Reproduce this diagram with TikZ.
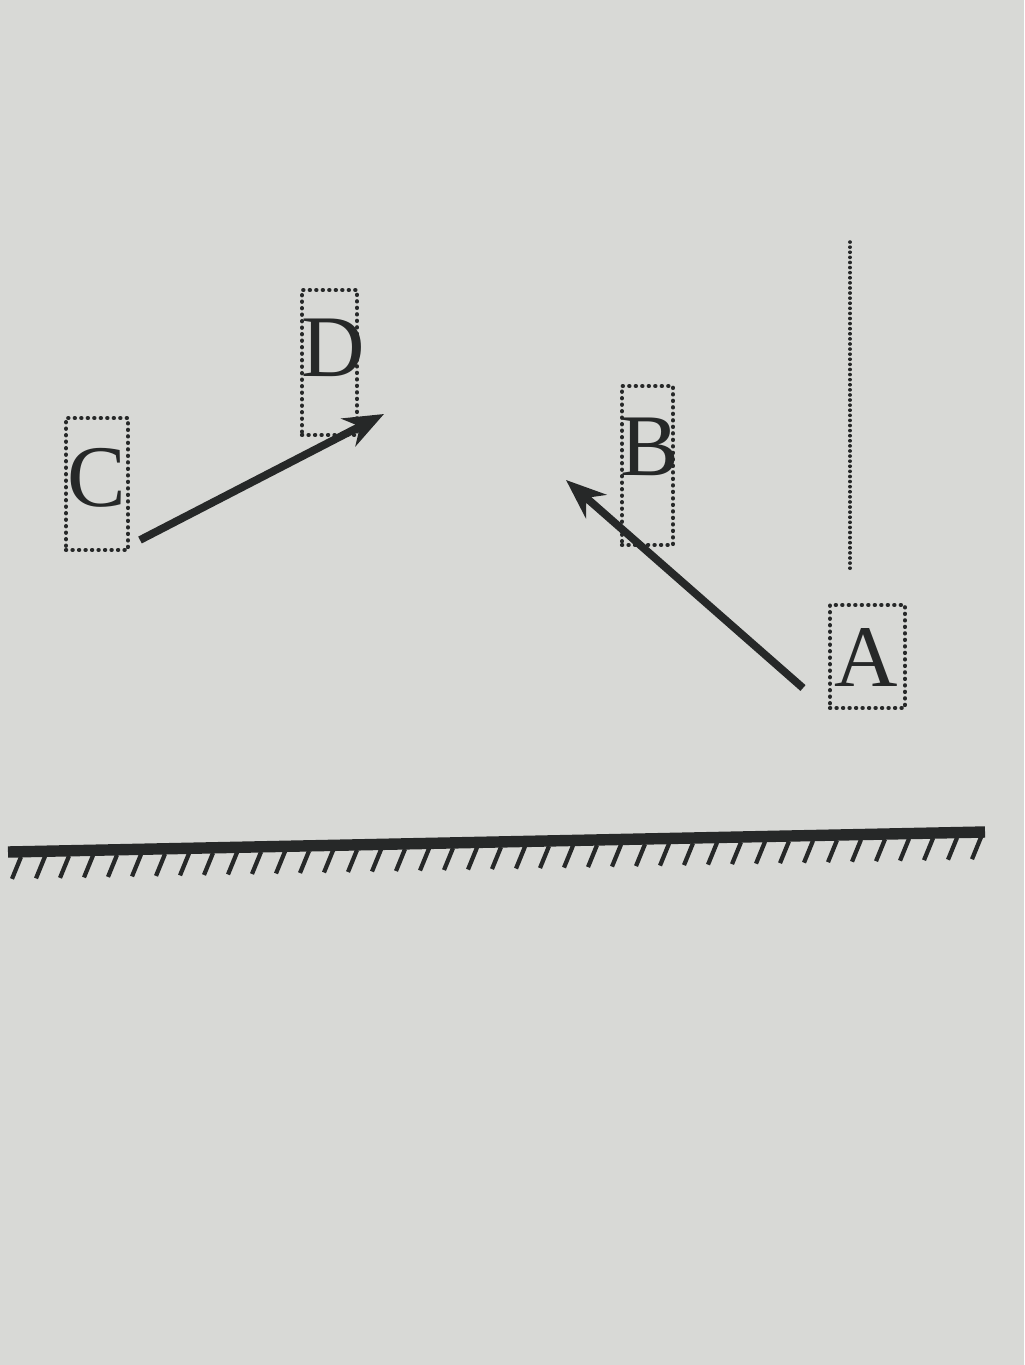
\documentclass[tikz,border=0pt]{standalone}
\usepackage{fontspec}
\setmainfont{Liberation Serif}
\usetikzlibrary{arrows.meta}
\definecolor{paper}{RGB}{216,217,214}
\definecolor{ink}{RGB}{38,40,40}
\tikzset{
    pointbox/.style={draw=ink,line width=2.4pt,dash pattern=on 0.1pt off 3.6pt,line cap=round},
    letter/.style={text=ink,inner sep=0pt,font=\fontsize{50}{54}\selectfont},
}
\begin{document}
\begin{tikzpicture}[x=0.02cm,y=-0.02cm]
            \fill[paper] (0,0) rectangle (1024,1365);
            \useasboundingbox (0,0) rectangle (1024,1365);
            \begin{scope}[every node/.style={pointbox}]
                \node[minimum width=1.24cm,minimum height=2.64cm] (boxC) at (97,484) {};
                \node[minimum width=1.10cm,minimum height=2.90cm] (boxD) at (329.5,362.5) {};
                \node[minimum width=1.02cm,minimum height=3.18cm] (boxB) at (647.5,465.5) {};
                \node[minimum width=1.50cm,minimum height=2.06cm] (boxA) at (867.5,656.5) {};
            \end{scope}
            \begin{scope}[every node/.style={letter}]
                \node (C) at (97,478) {C};
                \node (D) at (333,348) {D};
                \node (B) at (650,447) {B};
                \node (A) at (866,657) {A};
            \end{scope}
            \coordinate (cTail) at (140,540);
            \coordinate (dHead) at (384,414);
            \coordinate (aTail) at (803,688);
            \coordinate (bHead) at (566,480);
            \coordinate (normTop) at (850,242);
            \coordinate (normFoot) at (850,570);
            \coordinate (mirL) at (8,852);
            \coordinate (mirR) at (985,832);
            \begin{scope}[every edge/.style={draw=ink,line width=4.4pt,-{Stealth[length=0.8cm,width=0.62cm]}}]
                \path
                    (cTail) edge (dHead)
                    (aTail) edge (bHead);
            \end{scope}
            \draw[pointbox,line width=2pt,dash pattern=on 0.1pt off 2.8pt] (normTop) -- (normFoot);
            % mirror
            \draw[ink,line width=6.5pt] (mirL) -- (mirR);
            \foreach \x in {14,38,...,974}
                \draw[ink,line width=2.4pt] ({\x+7},{857-0.0205*(\x-8)}) -- ++(-9,22);
        \end{tikzpicture}
\end{document}
